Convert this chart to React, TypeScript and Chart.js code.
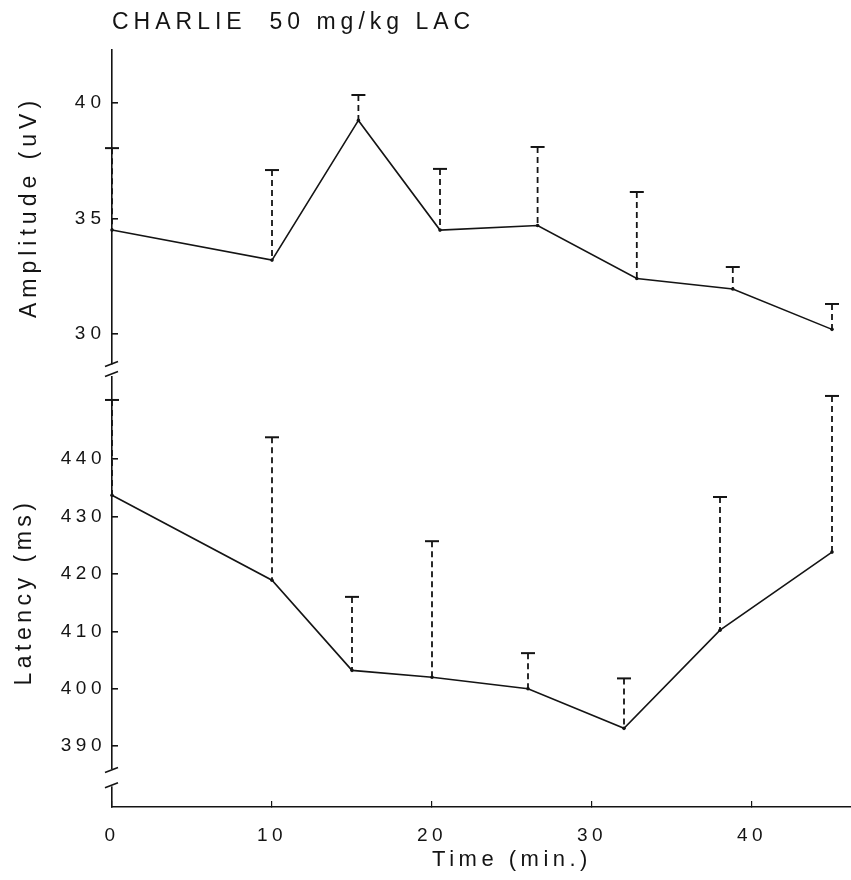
import React, { useEffect, useRef } from "react";
import { Chart, registerables } from "chart.js";

Chart.register(...registerables);

// ---- data ----
const titleText = "CHARLIE  50 mg/kg LAC";
const ampLabel = "Amplitude (uV)";
const latLabel = "Latency (ms)";
const timeLabel = "Time (min.)";

const ampTimes = [0, 10, 15.4, 20.5, 26.6, 32.8, 38.8, 45];
const ampMeans = [34.5, 33.2, 39.25, 34.5, 34.7, 32.4, 31.95, 30.2];
const ampErrors = [3.55, 3.9, 1.1, 2.65, 3.4, 3.75, 0.95, 1.1];

const latTimes = [0, 10, 15, 20, 26, 32, 38, 45];
const latMeans = [433.7, 418.9, 403.2, 402.0, 400.0, 393.1, 410.2, 423.8];
const latErrors = [16.6, 24.9, 12.8, 23.7, 6.2, 8.7, 23.2, 27.2];

const timeTicks = [0, 10, 20, 30, 40, 50];
const ampTicks = [30, 35, 40];
const latTicks = [390, 400, 410, 420, 430, 440];

// ---- styling ----
const FONT = "'Liberation Sans', Arial, sans-serif";
const INK = "#141414";
const AXIS_W = 112;
const CANVAS_W = 930;
const PAD_RIGHT = 18;

function errorBarPlugin(errors: number[]) {
  return {
    id: "errorBars",
    afterDatasetsDraw(chart: any) {
      const ctx = chart.ctx;
      const xs = chart.scales.x;
      const ys = chart.scales.y;
      const data = chart.data.datasets[0].data as { x: number; y: number }[];
      ctx.save();
      ctx.strokeStyle = INK;
      data.forEach((p, i) => {
        const x = xs.getPixelForValue(p.x);
        const y0 = ys.getPixelForValue(p.y);
        const y1 = ys.getPixelForValue(p.y + errors[i]);
        ctx.lineWidth = 1.8;
        ctx.setLineDash([6, 4]);
        ctx.beginPath();
        ctx.moveTo(x, y1);
        ctx.lineTo(x, y0);
        ctx.stroke();
        ctx.setLineDash([]);
        ctx.lineWidth = 2;
        ctx.beginPath();
        ctx.moveTo(x - 7, y1);
        ctx.lineTo(x + 7, y1);
        ctx.stroke();
      });
      ctx.restore();
    },
  };
}

function spacingPlugin(sp: string) {
  return {
    id: "spacing",
    beforeDraw(chart: any) {
      (chart.ctx as any).letterSpacing = sp;
    },
    afterDraw(chart: any) {
      (chart.ctx as any).letterSpacing = "0px";
    },
  };
}

const breakPlugin = {
  id: "axisBreaks",
  afterDraw(chart: any) {
    const ctx = chart.ctx;
    const ys = chart.scales.y;
    const xL = chart.chartArea.left;
    const top = chart.chartArea.top;
    const slash = (y: number) => {
      ctx.beginPath();
      ctx.moveTo(xL - 7, y + 2.5);
      ctx.lineTo(xL + 6, y - 2.5);
      ctx.stroke();
    };
    ctx.save();
    ctx.strokeStyle = INK;
    ctx.lineWidth = 1.6;
    // break between the two panels
    slash(top - 13);
    slash(top - 3);
    // break near the bottom of the latency axis
    const gTop = ys.getPixelForValue(386);
    const gBot = ys.getPixelForValue(383);
    ctx.fillStyle = "#fff";
    ctx.fillRect(xL - 4, gTop, 8, gBot - gTop);
    slash(gTop + 1);
    slash(gBot - 1);
    ctx.restore();
  },
};

const noPad = (s: any) => {
  s.paddingLeft = 0;
  s.paddingRight = 0;
};

function yAxis(min: number, max: number, ticks: number[], label: string, titlePadTop: number, titleSize: number) {
  return {
    type: "linear",
    min,
    max,
    afterBuildTicks: (s: any) => {
      s.ticks = ticks.map((v) => ({ value: v }));
    },
    afterFit: (s: any) => {
      s.width = AXIS_W;
    },
    border: { display: true, color: INK, width: 1.6 },
    grid: {
      display: true,
      drawOnChartArea: false,
      drawTicks: true,
      tickLength: -6,
      color: INK,
      lineWidth: 1.6,
    },
    ticks: {
      padding: 12,
      color: INK,
      font: { family: FONT, size: 19 },
    },
    title: {
      display: true,
      text: label,
      color: INK,
      font: { family: FONT, size: titleSize },
      padding: { top: titlePadTop, bottom: 0 },
    },
  };
}

export default function App() {
  const topRef = useRef<HTMLCanvasElement | null>(null);
  const botRef = useRef<HTMLCanvasElement | null>(null);

  useEffect(() => {
    if (!topRef.current || !botRef.current) return;

    const lineDataset = (times: number[], means: number[]) => ({
      data: times.map((t, i) => ({ x: t, y: means[i] })),
      borderColor: INK,
      backgroundColor: INK,
      borderWidth: 1.6,
      pointRadius: 1.8,
      pointBackgroundColor: INK,
      pointBorderWidth: 0,
      tension: 0,
      clip: false,
    });

    const topChart = new Chart(topRef.current, {
      type: "line",
      data: { datasets: [lineDataset(ampTimes, ampMeans) as any] },
      options: {
        animation: false,
        responsive: false,
        maintainAspectRatio: false,
        layout: { padding: { left: 0, right: PAD_RIGHT, top: 0, bottom: 25 } },
        plugins: {
          legend: { display: false },
          tooltip: { enabled: false },
          title: {
            display: true,
            text: titleText,
            align: "start",
            fullSize: false,
            color: INK,
            font: { family: FONT, size: 23, weight: "normal" },
            padding: { top: 8.5, bottom: 13.9 },
          },
        },
        scales: {
          x: { type: "linear", display: false, min: 0, max: 50, afterFit: noPad },
          y: yAxis(28.7, 42.3, ampTicks, ampLabel, 15.5, 23) as any,
        },
      },
      plugins: [spacingPlugin("5px"), errorBarPlugin(ampErrors)],
    });

    const botChart = new Chart(botRef.current, {
      type: "line",
      data: { datasets: [lineDataset(latTimes, latMeans) as any] },
      options: {
        animation: false,
        responsive: false,
        maintainAspectRatio: false,
        layout: { padding: { left: 0, right: PAD_RIGHT, top: 27, bottom: 0 } },
        plugins: {
          legend: { display: false },
          tooltip: { enabled: false },
          title: { display: false },
        },
        scales: {
          x: {
            type: "linear",
            min: 0,
            max: 50,
            afterBuildTicks: (s: any) => {
              s.ticks = timeTicks.map((v) => ({ value: v }));
            },
            afterFit: (s: any) => {
              s.height = 73;
              s.paddingLeft = 0;
              s.paddingRight = 0;
            },
            border: { display: true, color: INK, width: 1.6 },
            grid: {
              display: true,
              drawOnChartArea: false,
              drawTicks: true,
              tickLength: -6,
              color: INK,
              lineWidth: 1.2,
            },
            ticks: {
              padding: 23,
              color: INK,
              maxRotation: 0,
              autoSkip: false,
              font: { family: FONT, size: 19 },
            },
            title: {
              display: true,
              text: timeLabel,
              color: INK,
              font: { family: FONT, size: 22 },
              padding: { top: 0, bottom: 6.8 },
            },
          },
          y: yAxis(379.4, 454.3, latTicks, latLabel, 11, 23) as any,
        },
      },
      plugins: [spacingPlugin("4.5px"), errorBarPlugin(latErrors), breakPlugin],
    });

    return () => {
      topChart.destroy();
      botChart.destroy();
    };
  }, []);

  return (
    <div
      style={{
        position: "fixed",
        left: 0,
        top: 0,
        width: 851,
        height: 880,
        overflow: "hidden",
        background: "#fff",
      }}
    >
      <canvas
        ref={topRef}
        width={CANVAS_W}
        height={389}
        style={{ position: "absolute", left: 0, top: 0, width: CANVAS_W, height: 389 }}
      />
      <canvas
        ref={botRef}
        width={CANVAS_W}
        height={530}
        style={{ position: "absolute", left: 0, top: 350, width: CANVAS_W, height: 530 }}
      />
    </div>
  );
}
